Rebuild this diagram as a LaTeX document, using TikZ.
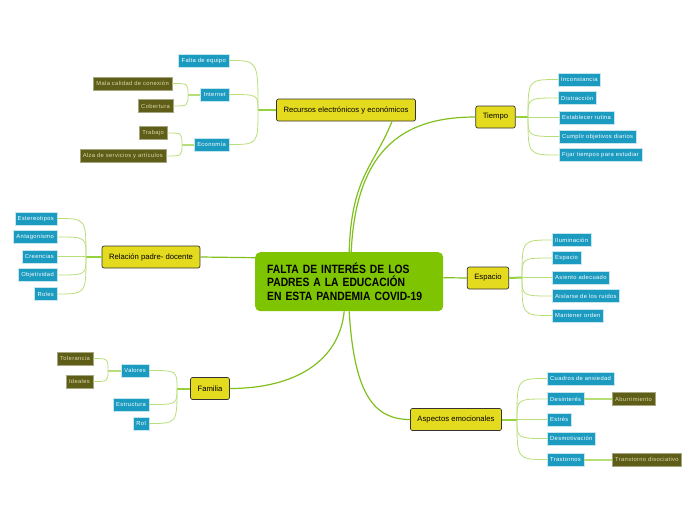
\documentclass[tikz,border=0pt]{standalone}
\usepackage{fontspec}
\setmainfont{Liberation Sans}
\newfontfamily\subfont[LetterSpace=6]{Liberation Sans}
\newfontfamily\titlefont[FakeStretch=0.86]{Liberation Sans}
\usetikzlibrary{positioning}
\definecolor{maingreen}{RGB}{126,196,0}
\definecolor{branchgreen}{RGB}{128,192,30}
\definecolor{twiggreen}{RGB}{184,222,120}
\definecolor{stubgreen}{RGB}{150,210,60}
\definecolor{topicyellow}{RGB}{229,219,30}
\definecolor{subblue}{RGB}{28,155,193}
\definecolor{leafolive}{RGB}{94,94,24}
\definecolor{leaftext}{RGB}{222,218,170}

\begin{document}
\begin{tikzpicture}[
  x=1pt,y=-1pt,
  centre/.style={
    fill=maingreen,
    rounded corners=5pt,
    text width=164pt,
    inner xsep=12pt,
    minimum height=59pt,
    align=left,
    font=\titlefont\bfseries\fontsize{12}{13.5}\selectfont
  },
  topic/.style={
    draw=black!80,
    line width=0.7pt,
    fill=topicyellow,
    rounded corners=2pt,
    inner xsep=7pt,
    inner ysep=0pt,
    minimum height=22pt,
    font=\fontsize{7.7}{9}\selectfont
  },
  sub/.style={
    fill=subblue,
    draw=white!75!subblue,
    line width=0.4pt,
    text=white,
    inner xsep=3pt,
    inner ysep=0pt,
    minimum height=13pt,
    font=\subfont\fontsize{5.8}{6.5}\selectfont
  },
  leaf/.style={sub,fill=leafolive,draw=leafolive!55!white,text=leaftext},
  branch/.style={draw=branchgreen,line width=1.2pt},
  stub/.style={draw=stubgreen,line width=2pt},
  twig/.style={draw=twiggreen,line width=0.8pt},
  fan/.style={twig,to path={.. controls (\tikztostart |- \tikztotarget) .. (\tikztotarget)}}
]
  \useasboundingbox (0,0) rectangle (696,520);

  \node[centre,anchor=north west] (centre) at (255,252) {
    FALTA DE INTERÉS DE LOS\\
    PADRES A LA EDUCACIÓN\\
    EN ESTA PANDEMIA COVID-19
  };

  \node[topic] (recursos) at (346,110) {Recursos electrónicos y económicos};
  \node[topic] (tiempo) at (495.5,117) {Tiempo};
  \node[topic] (relacion) at (151,257) {Relación padre- docente};
  \node[topic] (espacio) at (488,278) {Espacio};
  \node[topic] (familia) at (210,388.5) {Familia};
  \node[topic] (aspectos) at (456,419.5) {Aspectos emocionales};

  \node[sub,anchor=east] (falta) at (229,60.5) {Falta de equipo};
  \node[sub,anchor=east] (internet) at (229,94.5) {Internet};
  \node[sub,anchor=east] (economia) at (229,144.5) {Economía};
  \node[leaf,anchor=east] (mala) at (172,83.5) {Mala calidad de conexión};
  \node[leaf,anchor=east] (cobertura) at (173,106) {Cobertura};
  \node[leaf,anchor=east] (trabajo) at (167,133) {Trabajo};
  \node[leaf,anchor=east] (alza) at (166,156) {Alza de servicios y artículos};

  \node[sub,anchor=west] (inconstancia) at (558,79.5) {Inconstancia};
  \node[sub,anchor=west] (distraccion) at (558,98) {Distracción};
  \node[sub,anchor=west] (rutina) at (559,117.5) {Establecer rutina};
  \node[sub,anchor=west] (objetivos) at (559,136.5) {Cumplir objetivos diarios};
  \node[sub,anchor=west] (fijar) at (559,155) {Fijar tiempos para estudiar};

  \node[sub,anchor=east] (estereotipos) at (57,218.5) {Estereotipos};
  \node[sub,anchor=east] (antagonismo) at (57,237) {Antagonismo};
  \node[sub,anchor=east] (creencias) at (57,256.5) {Creencias};
  \node[sub,anchor=east] (objetividad) at (57,275) {Objetividad};
  \node[sub,anchor=east] (roles) at (57,294) {Roles};

  \node[sub,anchor=west] (iluminacion) at (552,240) {Iluminación};
  \node[sub,anchor=west] (espaciosub) at (552,258) {Espacio};
  \node[sub,anchor=west] (asiento) at (552,277.5) {Asiento adecuado};
  \node[sub,anchor=west] (ruidos) at (552,296) {Aislarse de los ruidos};
  \node[sub,anchor=west] (orden) at (552,315.5) {Mantener orden};

  \node[sub,anchor=east] (valores) at (149,370.5) {Valores};
  \node[sub,anchor=east] (estructura) at (149,404.5) {Estructura};
  \node[sub,anchor=east] (rol) at (149,423.5) {Rol};
  \node[leaf,anchor=east] (tolerancia) at (93,358.5) {Tolerancia};
  \node[leaf,anchor=east] (ideales) at (93,381.5) {Ideales};

  \node[sub,anchor=west] (ansiedad) at (547,378.5) {Cuadros de ansiedad};
  \node[sub,anchor=west] (desinteres) at (547,399) {Desinterés};
  \node[sub,anchor=west] (estres) at (547,419.5) {Estrés};
  \node[sub,anchor=west] (desmotivacion) at (547,438.5) {Desmotivación};
  \node[sub,anchor=west] (trastornos) at (547,459.5) {Trastornos};
  \node[leaf,anchor=west] (aburrimiento) at (612,399) {Aburrimiento};
  \node[leaf,anchor=west] (disociativo) at (612,459.5) {Transtorno disociativo};

  \coordinate (rhub) at (258,110);
  \coordinate (ihub) at (188,94.5);
  \coordinate (ehub) at (182,144.5);
  \coordinate (thub) at (528,117);
  \coordinate (relhub) at (86,257);
  \coordinate (eshub) at (522,277.5);
  \coordinate (fhub) at (177,388.5);
  \coordinate (vhub) at (108,370.5);
  \coordinate (ahub) at (517,419.5);

  \draw[branch] (centre.north) .. controls +(2,-75) and +(-18,45) .. ([xshift=46pt]recursos.south);
  \draw[branch] ([xshift=2pt]centre.north) .. controls +(5,-110) and +(-65,0) .. (tiempo.west);
  \draw[branch] ([yshift=24pt]centre.west) -- (relacion.east);
  \draw[branch] ([yshift=4pt]centre.east) -- (espacio.west);
  \draw[branch] ([xshift=-5pt]centre.south) .. controls +(-5,50) and +(65,0) .. (familia.east);
  \draw[branch] (centre.south) .. controls +(5,85) and +(-35,0) .. (aspectos.west);

  \draw[stub] (recursos.west) -- (rhub);
  \draw[fan] (rhub) to (falta.east);
  \draw[fan] (rhub) to (internet.east);
  \draw[fan] (rhub) to (economia.east);
  \draw[stub,draw=twiggreen] (internet.west) -- (ihub);
  \draw[fan] (ihub) to (mala.east);
  \draw[fan] (ihub) to (cobertura.east);
  \draw[stub,draw=twiggreen] (economia.west) -- (ehub);
  \draw[fan] (ehub) to (trabajo.east);
  \draw[fan] (ehub) to (alza.east);

  \draw[stub] (tiempo.east) -- (thub);
  \draw[fan] (thub) to (inconstancia.west);
  \draw[fan] (thub) to (distraccion.west);
  \draw[fan] (thub) to (rutina.west);
  \draw[fan] (thub) to (objetivos.west);
  \draw[fan] (thub) to (fijar.west);

  \draw[stub] (relacion.west) -- (relhub);
  \draw[fan] (relhub) to (estereotipos.east);
  \draw[fan] (relhub) to (antagonismo.east);
  \draw[fan] (relhub) to (creencias.east);
  \draw[fan] (relhub) to (objetividad.east);
  \draw[fan] (relhub) to (roles.east);

  \draw[stub] (espacio.east) -- (eshub);
  \draw[fan] (eshub) to (iluminacion.west);
  \draw[fan] (eshub) to (espaciosub.west);
  \draw[fan] (eshub) to (asiento.west);
  \draw[fan] (eshub) to (ruidos.west);
  \draw[fan] (eshub) to (orden.west);

  \draw[stub] (familia.west) -- (fhub);
  \draw[fan] (fhub) to (valores.east);
  \draw[fan] (fhub) to (estructura.east);
  \draw[fan] (fhub) to (rol.east);
  \draw[stub,draw=twiggreen] (valores.west) -- (vhub);
  \draw[fan] (vhub) to (tolerancia.east);
  \draw[fan] (vhub) to (ideales.east);

  \draw[stub] (aspectos.east) -- (ahub);
  \draw[fan] (ahub) to (ansiedad.west);
  \draw[fan] (ahub) to (desinteres.west);
  \draw[fan] (ahub) to (estres.west);
  \draw[fan] (ahub) to (desmotivacion.west);
  \draw[fan] (ahub) to (trastornos.west);
  \draw[stub,draw=twiggreen] (desinteres.east) -- (aburrimiento.west);
  \draw[stub,draw=twiggreen] (trastornos.east) -- (disociativo.west);
\end{tikzpicture}
\end{document}
